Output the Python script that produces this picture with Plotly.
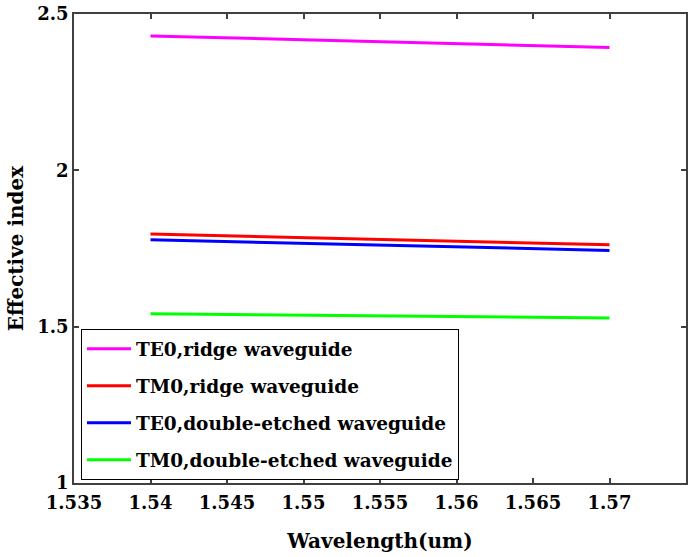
import plotly.graph_objects as go

wavelength = [1.540, 1.545, 1.550, 1.555, 1.560, 1.565, 1.570]
te0_ridge = [2.430, 2.424, 2.418, 2.412, 2.405, 2.399, 2.393]
tm0_ridge = [1.796, 1.790, 1.785, 1.779, 1.773, 1.767, 1.762]
te0_double = [1.778, 1.772, 1.767, 1.761, 1.755, 1.750, 1.744]
tm0_double = [1.541, 1.539, 1.537, 1.535, 1.533, 1.531, 1.528]

series = [
    ("TE0,ridge waveguide", te0_ridge, "#ff00ff"),
    ("TM0,ridge waveguide", tm0_ridge, "#ff0000"),
    ("TE0,double-etched waveguide", te0_double, "#0000ff"),
    ("TM0,double-etched waveguide", tm0_double, "#00ff00"),
]

x_ticks = [1.535, 1.54, 1.545, 1.55, 1.555, 1.56, 1.565, 1.57]
x_tick_text = ["1.535", "1.54", "1.545", "1.55", "1.555", "1.56", "1.565", "1.57"]
y_ticks = [1, 1.5, 2, 2.5]
y_tick_text = ["1", "1.5", "2", "2.5"]

font_family = "DejaVu Serif"


def bold(s):
    return "<b>" + s + "</b>"


fig = go.Figure()
for i, (name, values, color) in enumerate(series):
    fig.add_trace(go.Scatter(
        x=wavelength, y=values, mode="lines", name=bold(name),
        legendgroup="g%d" % i,
        line=dict(color=color, width=3),
    ))

axis_common = dict(
    showgrid=False, zeroline=False, showline=True, mirror="ticks",
    linecolor="#404040", linewidth=1.5, ticks="inside", ticklen=5,
    tickcolor="#404040", tickwidth=1.5,
    tickfont=dict(family=font_family, size=18, color="black"),
)

fig.update_layout(
    width=691, height=557,
    margin=dict(l=74, r=3, t=14, b=74),
    paper_bgcolor="white", plot_bgcolor="white",
    font=dict(family=font_family, color="black"),
    xaxis=dict(
        range=[1.535, 1.575], tickvals=x_ticks,
        ticktext=[bold(t) for t in x_tick_text],
        ticklabelstandoff=3,
        title=dict(text=bold("Wavelength(um)"), font=dict(size=20), standoff=22),
        **axis_common,
    ),
    yaxis=dict(
        range=[1, 2.5], tickvals=y_ticks,
        ticktext=[bold(t) for t in y_tick_text],
        title=dict(text=bold("Effective index"), font=dict(size=20), standoff=8),
        **axis_common,
    ),
    legend=dict(
        x=0.0114, y=0.328, xanchor="left", yanchor="top",
        bgcolor="white", bordercolor="black", borderwidth=1,
        font=dict(family=font_family, size=18.5, color="black"),
        tracegroupgap=10, itemwidth=44,
    ),
)

fig.write_html("out.html")
